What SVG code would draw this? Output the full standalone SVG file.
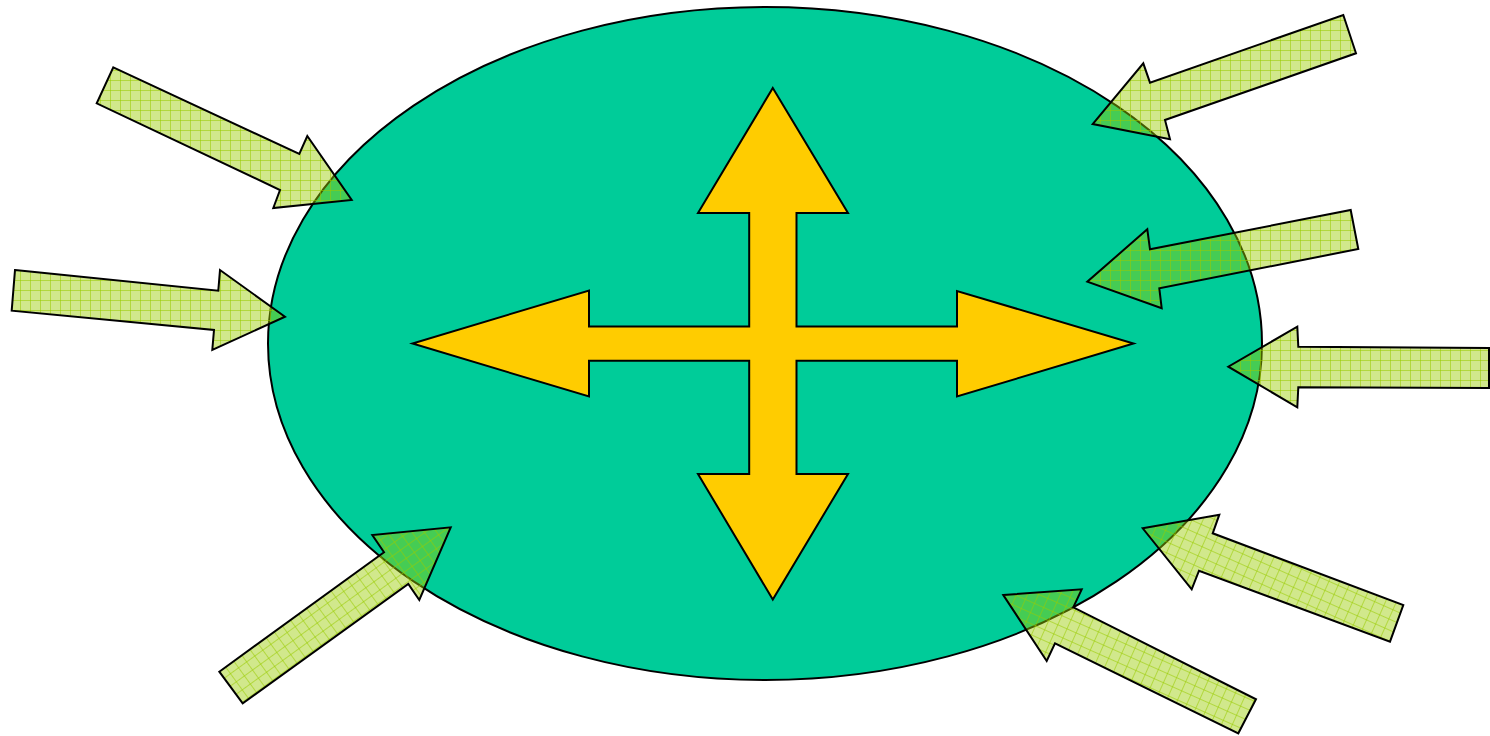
<svg xmlns="http://www.w3.org/2000/svg" width="1490" height="736" viewBox="0 0 1490 736">
<style>
.arr{stroke:#000;stroke-width:2;stroke-linejoin:miter}
.a{fill:url(#grid)}
.b{fill:url(#gridL)}
.c{fill:url(#gridR)}
</style>
<defs>
<pattern id="grid" patternUnits="userSpaceOnUse" width="10" height="10">
<rect width="10" height="10" fill="#99cc00" fill-opacity="0.45"/>
<path d="M0 0.5H10M0.5 0V10" stroke="#99cc00" stroke-opacity="0.55" stroke-width="1" fill="none"/>
</pattern>
<pattern id="gridL" href="#grid" patternTransform="rotate(-36)"/>
<pattern id="gridR" href="#grid" patternTransform="rotate(24)"/>
</defs>
<rect width="1490" height="736" fill="#fff"/>
<g id="ellipse">
<ellipse cx="765" cy="343.5" rx="497" ry="336.5" fill="#00cc99" stroke="#000" stroke-width="2"/>
</g>
<g id="cross">
<polygon points="772.8,88 848,213 796.5,213 796.5,326.5 957,326.5 957,291 1133.5,343.5 957,396.5 957,360.7 796.5,360.7 796.5,474 848,474 772.8,599.5 698,474 749.2,474 749.2,360.7 589,360.7 589,396.5 412.5,343.5 589,290.5 589,326.5 749.2,326.5 749.2,213 698,213" fill="#ffcc00" stroke="#000" stroke-width="2"/>
</g>
<g id="connectors">
<g id="arrow-tl"><polygon class="arr a" points="113.3,67.3 299.3,154 307.3,136 351.7,200 273.3,208 280,190 96.7,103.3"/></g>
<g id="arrow-l"><polygon class="arr a" points="15,270 218.3,290.7 220,270 285,316.7 212.3,350 214,330 11.7,310.7"/></g>
<g id="arrow-tr"><polygon class="arr a" points="1343.3,15 1356,53.3 1165,120 1170,139.3 1092.7,124 1143.3,63.3 1150,82.7"/></g>
<g id="arrow-r1"><polygon class="arr a" points="1350.7,210 1358.3,249 1159.3,288.3 1161.7,308.3 1087.3,281.7 1147.3,229.3 1150,249.3"/></g>
<g id="arrow-r2"><polygon class="arr a" points="1489,348 1489,388 1298.3,387.3 1297.3,407.3 1228.3,366.7 1297.3,326.7 1298.3,346.7"/></g>
<g id="arrow-bl"><polygon class="arr b" points="219.3,671.7 384,552.3 372.3,535 450.7,527.3 419.3,600 408.3,584 242.7,703.3"/></g>
<g id="arrow-br1"><polygon class="arr c" points="1003.3,595 1081.7,589.3 1073.3,607.3 1256,699.3 1238.3,733.3 1055,643.3 1046.7,661"/></g>
<g id="arrow-br2"><polygon class="arr c" points="1142.7,528.3 1219.3,514.7 1212.7,533.3 1403.3,605 1390,641.7 1199,570.7 1191.7,589.3"/></g>
</g>
</svg>
